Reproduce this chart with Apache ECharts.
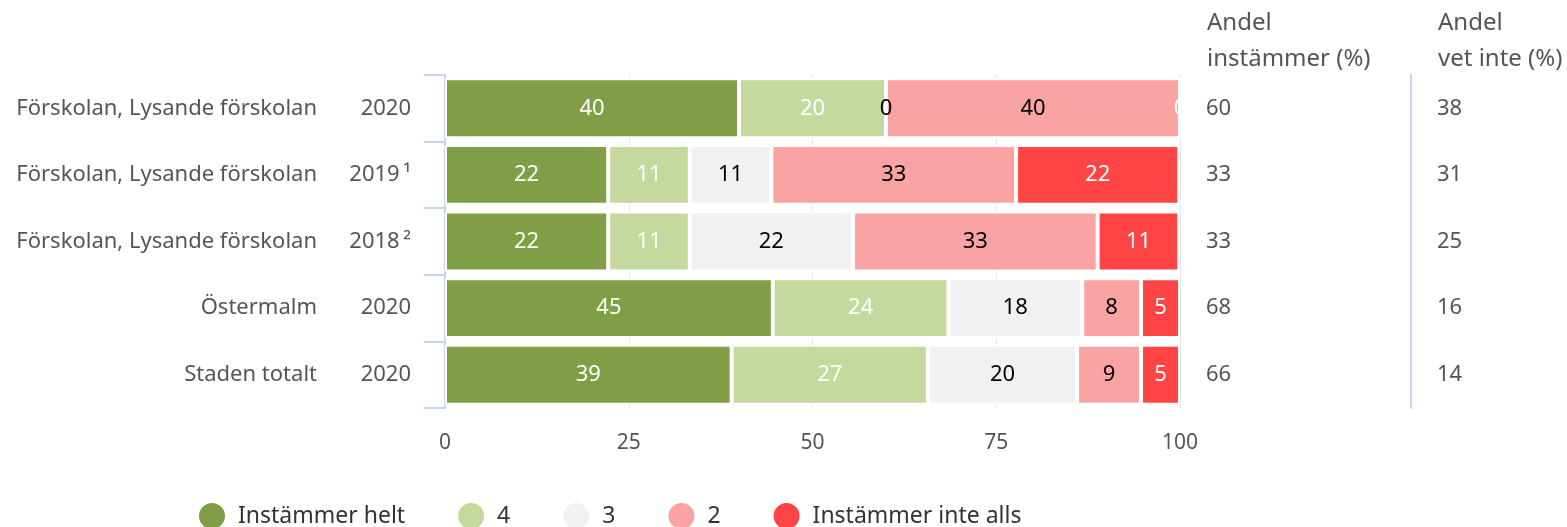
<!DOCTYPE html>
<html>
<head>
<meta charset="utf-8">
<script src="https://cdn.jsdelivr.net/npm/echarts@6/dist/echarts.min.js"></script>
<style>
  html, body { margin: 0; padding: 0; background: #fff; }
  #chart { width: 1567px; height: 527px; }
</style>
</head>
<body>
<div id="chart"></div>
<script>
const names = ["Förskolan, Lysande förskolan", "Förskolan, Lysande förskolan", "Förskolan, Lysande förskolan", "Östermalm", "Staden totalt"];
const years = ["2020", "2019", "2018", "2020", "2020"];
const notes = ["", "¹", "²", "", ""];

const seriesNames = ["Instämmer helt", "4", "3", "2", "Instämmer inte alls"];
const helt = [40, 22.2, 22.2, 44.6, 39.0];
const fyra = [20, 11.1, 11.1, 23.9, 26.7];
const tre = [0, 11.1, 22.2, 18.2, 20.3];
const tva = [40, 33.3, 33.3, 8.0, 8.7];
const inteAlls = [0, 22.2, 11.1, 5.3, 5.3];

const andelInstammer = [60, 33, 33, 68, 66];
const andelVetInte = [38, 31, 25, 16, 14];

const xTicks = [0, 25, 50, 75, 100];

const colors = ["#809e45", "#c5d89e", "#f1f1f1", "#f9a4a3", "#ff4446"];
const labelColors = ["#fff", "#fff", "#000", "#000", "#fff"];
const FONT = "Noto Sans";
const GREY = "#555";
const LINE = "#c8d2ea";

const cats = names.map((n, i) => n + "|" + years[i] + "|" + notes[i]);
const values = [helt, fyra, tre, tva, inteAlls];

const chart = echarts.init(document.getElementById("chart"));

const headStyle = { fontSize: 24, fontWeight: "normal", color: GREY, lineHeight: 36, fontFamily: FONT };

const option = {
  backgroundColor: "#fff",
  textStyle: { fontFamily: FONT },
  animation: false,
  color: colors,
  title: [
    { text: "Andel\ninstämmer (%)", left: 1202, top: 0, textStyle: headStyle },
    { text: "Andel\nvet inte (%)", left: 1433, top: 0, textStyle: headStyle },
  ],
  legend: {
    left: 192,
    top: 496,
    icon: "circle",
    itemWidth: 28,
    itemHeight: 28,
    itemGap: 51,
    textStyle: { fontSize: 23, color: "#333", fontFamily: FONT, padding: [0, 0, 0, 7] },
    data: seriesNames,
  },
  grid: { left: 445, right: 387, top: 75, bottom: 119 },
  xAxis: {
    type: "value",
    min: 0,
    max: 100,
    interval: 25,
    axisLine: { show: false },
    axisTick: { show: false },
    axisLabel: { fontSize: 21, color: GREY, margin: 25, fontFamily: FONT,
      formatter: (v) => (xTicks.includes(v) ? String(v) : "") },
    splitLine: { lineStyle: { color: "#e6e6e6", width: 1 } },
  },
  yAxis: [
    {
      type: "category",
      inverse: true,
      data: cats,
      axisLine: { show: true, lineStyle: { color: LINE, width: 2 } },
      axisTick: { show: true, length: 21, lineStyle: { color: LINE, width: 2 } },
      axisLabel: {
        margin: 34,
        color: GREY,
        fontSize: 22,
        fontFamily: FONT,
        formatter: (v) => {
          const p = v.split("|");
          const yr = p[2] ? p[1] + "\u2009" + p[2] : p[1];
          return `{n|${p[0]}}{y|${yr}}`;
        },
        rich: {
          n: { fontSize: 22, color: GREY, align: "right", fontFamily: FONT },
          y: { fontSize: 22, color: GREY, width: 94, align: "right", fontFamily: FONT },
        },
      },
    },
    {
      type: "category",
      inverse: true,
      position: "right",
      data: cats,
      axisLine: { show: false },
      axisTick: { show: false },
      axisLabel: { margin: 26, color: GREY, fontSize: 22, fontFamily: FONT,
        formatter: (v, i) => String(andelInstammer[i]) },
    },
    {
      type: "category",
      inverse: true,
      position: "right",
      offset: 231,
      data: cats,
      axisLine: { show: true, lineStyle: { color: LINE, width: 2 } },
      axisTick: { show: false },
      axisLabel: { margin: 26, color: GREY, fontSize: 22, fontFamily: FONT,
        formatter: (v, i) => String(andelVetInte[i]) },
    },
  ],
  series: seriesNames.map((name, k) => ({
    name,
    type: "bar",
    stack: "total",
    barCategoryGap: "10%",
    data: values[k],
    itemStyle: { color: colors[k], borderColor: "#fff", borderWidth: 2 },
    label: {
      show: true,
      position: "inside",
      fontSize: 22,
      fontFamily: FONT,
      color: labelColors[k],
      formatter: (p) => String(Math.round(p.value)),
    },
  })),
};

chart.setOption(option);
</script>
</body>
</html>
